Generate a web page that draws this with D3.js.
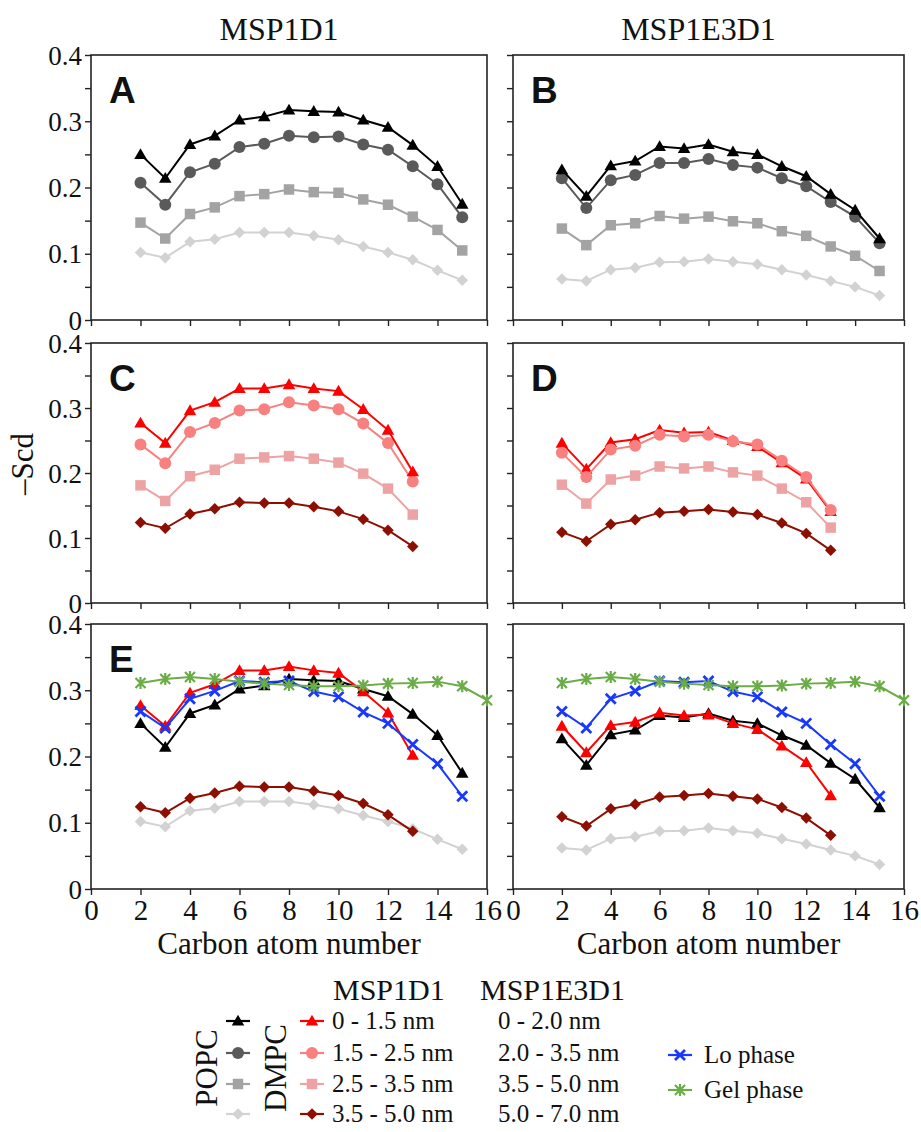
<!DOCTYPE html>
<html>
<head>
<meta charset="utf-8">
<script src="https://cdn.jsdelivr.net/npm/d3@7"></script>
<style>
  body { margin: 0; background: #fff; }
  svg { display: block; }
  text { font-family: "Liberation Serif", "Times New Roman", serif; fill: #111; }
</style>
</head>
<body>
<div id="main"></div>
<script>
// carbon positions along the acyl chain
const carbons = [2, 3, 4, 5, 6, 7, 8, 9, 10, 11, 12, 13, 14, 15]
const carbonsShort = [2, 3, 4, 5, 6, 7, 8, 9, 10, 11, 12, 13]
const carbonsGel = [2, 3, 4, 5, 6, 7, 8, 9, 10, 11, 12, 13, 14, 15, 16]

// panel A : MSP1D1 bulk
const popcD1 = [0.250, 0.214, 0.265, 0.278, 0.302, 0.307, 0.317, 0.315, 0.314, 0.302, 0.291, 0.264, 0.232, 0.175]
const dmpcD1Circ = [0.207, 0.174, 0.223, 0.236, 0.261, 0.266, 0.278, 0.276, 0.277, 0.265, 0.257, 0.232, 0.205, 0.155]
const dmpcD1Sq = [0.147, 0.123, 0.160, 0.170, 0.187, 0.190, 0.197, 0.193, 0.192, 0.182, 0.174, 0.156, 0.136, 0.105]
const dmpcD1Dia = [0.102, 0.094, 0.118, 0.122, 0.132, 0.132, 0.132, 0.127, 0.121, 0.111, 0.102, 0.091, 0.075, 0.060]

// panel B : MSP1E3D1 bulk
const popcE3 = [0.227, 0.187, 0.233, 0.240, 0.262, 0.259, 0.265, 0.254, 0.250, 0.232, 0.217, 0.190, 0.166, 0.123]
const dmpcE3Circ = [0.214, 0.169, 0.211, 0.219, 0.237, 0.237, 0.243, 0.234, 0.230, 0.214, 0.202, 0.178, 0.156, 0.116]
const dmpcE3Sq = [0.138, 0.113, 0.143, 0.146, 0.157, 0.153, 0.156, 0.149, 0.146, 0.134, 0.127, 0.111, 0.097, 0.074]
const dmpcE3Dia = [0.062, 0.059, 0.076, 0.079, 0.087, 0.088, 0.092, 0.088, 0.084, 0.076, 0.068, 0.059, 0.050, 0.037]

// panel C : MSP1D1 shells
const shellD1a = [0.277, 0.246, 0.296, 0.309, 0.330, 0.330, 0.336, 0.330, 0.326, 0.298, 0.266, 0.202]
const shellD1b = [0.244, 0.215, 0.263, 0.277, 0.296, 0.298, 0.309, 0.304, 0.298, 0.276, 0.246, 0.187]
const shellD1c = [0.181, 0.157, 0.195, 0.205, 0.222, 0.224, 0.226, 0.222, 0.216, 0.199, 0.176, 0.136]
const shellD1d = [0.124, 0.115, 0.137, 0.145, 0.155, 0.154, 0.154, 0.148, 0.141, 0.129, 0.112, 0.087]

// panel D : MSP1E3D1 shells
const shellE3a = [0.246, 0.206, 0.247, 0.252, 0.266, 0.262, 0.263, 0.250, 0.241, 0.216, 0.191, 0.141]
const shellE3b = [0.231, 0.194, 0.236, 0.242, 0.259, 0.256, 0.259, 0.249, 0.244, 0.219, 0.194, 0.143]
const shellE3c = [0.182, 0.153, 0.190, 0.196, 0.210, 0.207, 0.210, 0.201, 0.196, 0.176, 0.155, 0.116]
const shellE3d = [0.109, 0.095, 0.121, 0.128, 0.139, 0.141, 0.144, 0.140, 0.136, 0.123, 0.107, 0.081]

// reference phases
const loPhase = [0.268, 0.243, 0.287, 0.299, 0.314, 0.312, 0.314, 0.298, 0.290, 0.267, 0.250, 0.218, 0.189, 0.140]
const gelPhase = [0.311, 0.317, 0.320, 0.317, 0.313, 0.310, 0.308, 0.306, 0.306, 0.307, 0.310, 0.311, 0.313, 0.306, 0.285]

const yTicks = [0, 0.05, 0.1, 0.15, 0.2, 0.25, 0.3, 0.35, 0.4]
const yLabels = [0, 0.1, 0.2, 0.3, 0.4]
const xTicks = [0, 2, 4, 6, 8, 10, 12, 14, 16]
const colTitles = ['MSP1D1', 'MSP1E3D1']

const styles = {
  black: { color: '#000000', shape: 'tri' },
  dgray: { color: '#5a5a5a', shape: 'circ' },
  gray: { color: '#a3a3a3', shape: 'sq' },
  lgray: { color: '#d2d2d2', shape: 'dia' },
  red: { color: '#ff0000', shape: 'tri' },
  pink: { color: '#f8817f', shape: 'circ' },
  lpink: { color: '#eda3a3', shape: 'sq' },
  dred: { color: '#8c0f02', shape: 'dia' },
  blue: { color: '#1838ff', shape: 'x' },
  green: { color: '#6aac45', shape: 'star' }
}

const panels = [
  { col: 0, row: 0, letter: 'A', series: [[carbons, dmpcD1Dia, 'lgray'], [carbons, dmpcD1Sq, 'gray'], [carbons, dmpcD1Circ, 'dgray'], [carbons, popcD1, 'black']] },
  { col: 1, row: 0, letter: 'B', series: [[carbons, dmpcE3Dia, 'lgray'], [carbons, dmpcE3Sq, 'gray'], [carbons, dmpcE3Circ, 'dgray'], [carbons, popcE3, 'black']] },
  { col: 0, row: 1, letter: 'C', series: [[carbonsShort, shellD1d, 'dred'], [carbonsShort, shellD1c, 'lpink'], [carbonsShort, shellD1b, 'pink'], [carbonsShort, shellD1a, 'red']] },
  { col: 1, row: 1, letter: 'D', series: [[carbonsShort, shellE3d, 'dred'], [carbonsShort, shellE3c, 'lpink'], [carbonsShort, shellE3a, 'red'], [carbonsShort, shellE3b, 'pink']] },
  { col: 0, row: 2, letter: 'E', series: [[carbons, dmpcD1Dia, 'lgray'], [carbonsShort, shellD1d, 'dred'], [carbons, popcD1, 'black'], [carbonsShort, shellD1a, 'red'], [carbons, loPhase, 'blue'], [carbonsGel, gelPhase, 'green']] },
  { col: 1, row: 2, letter: '', series: [[carbons, dmpcE3Dia, 'lgray'], [carbonsShort, shellE3d, 'dred'], [carbons, popcE3, 'black'], [carbonsShort, shellE3a, 'red'], [carbons, loPhase, 'blue'], [carbonsGel, gelPhase, 'green']] }
]

const cols = [{ x0: 91, x1: 487 }, { x0: 513, x1: 904 }]
const rows = [{ y0: 55, y1: 320 }, { y0: 343, y1: 603 }, { y0: 624, y1: 889 }]
const SERIF = '"Liberation Serif", "Times New Roman", serif'

const svg = d3.select('#main').append('svg').attr('width', 921).attr('height', 1132)

function marker(g, shape, color, cx, cy) {
  const t = 'translate(' + cx + ',' + cy + ')'
  if (shape === 'tri') {
    g.append('path').attr('d', d3.symbol(d3.symbolTriangle, 68)()).attr('transform', t + ' translate(0,1)').attr('fill', color)
  } else if (shape === 'circ') {
    g.append('circle').attr('cx', cx).attr('cy', cy).attr('r', 6).attr('fill', color)
  } else if (shape === 'sq') {
    g.append('path').attr('d', d3.symbol(d3.symbolSquare, 110)()).attr('transform', t).attr('fill', color)
  } else if (shape === 'dia') {
    g.append('path').attr('d', d3.symbol(d3.symbolSquare, 66)()).attr('transform', t + ' rotate(45)').attr('fill', color)
  } else if (shape === 'x') {
    g.append('path').attr('d', 'M-5,-5L5,5M-5,5L5,-5').attr('transform', t)
      .attr('stroke', color).attr('stroke-width', 2.8).attr('fill', 'none')
  } else if (shape === 'star') {
    g.append('path').attr('d', 'M-5,-5L5,5M-5,5L5,-5M0,-6L0,6').attr('transform', t)
      .attr('stroke', color).attr('stroke-width', 2.2).attr('fill', 'none')
  }
}

const fmt = d => (d === 0 ? '0' : d3.format('.1f')(d))

panels.forEach(p => {
  const c = cols[p.col], r = rows[p.row]
  const x = d3.scaleLinear().domain([0, 16]).range([c.x0, c.x1])
  const y = d3.scaleLinear().domain([0, 0.4]).range([r.y1, r.y0])
  const g = svg.append('g').attr('class', 'panel')

  // y axis ticks, labels only on the left column
  const ya = g.append('g').attr('transform', 'translate(' + c.x0 + ',0)')
    .call(d3.axisLeft(y).tickValues(yTicks).tickSize(6).tickSizeOuter(0)
      .tickFormat(d => (p.col === 0 && yLabels.some(v => Math.abs(v - d) < 1e-9)) ? fmt(d) : ''))
  ya.select('.domain').remove()
  ya.selectAll('line').attr('stroke', '#222').attr('stroke-width', 1.4)
  ya.selectAll('text').attr('x', -9).attr('dy', '0.34em').attr('fill', '#111')
    .style('font-family', SERIF).style('font-size', '27px')

  const xa = g.append('g').attr('transform', 'translate(0,' + r.y1 + ')')
    .call(d3.axisBottom(x).tickValues(xTicks).tickSize(6).tickSizeOuter(0)
      .tickFormat(d => (p.row === 2 ? d : '')))
  xa.select('.domain').remove()
  xa.selectAll('line').attr('stroke', '#222').attr('stroke-width', 1.4)
  xa.selectAll('text').attr('y', 9).attr('dy', '0.75em').attr('fill', '#111')
    .style('font-family', SERIF).style('font-size', '29px')

  g.append('rect').attr('x', c.x0).attr('y', r.y0).attr('width', c.x1 - c.x0).attr('height', r.y1 - r.y0)
    .attr('fill', 'none').attr('stroke', '#222').attr('stroke-width', 1.6)

  if (p.letter) {
    g.append('text').attr('x', c.x0 + 18).attr('y', r.y0 + 48).text(p.letter)
      .style('font-family', '"Liberation Sans", Arial, sans-serif').attr('font-weight', 'bold').attr('font-size', 37)
  }

  const line = d3.line().x(d => x(d[0])).y(d => y(d[1]))
  p.series.forEach(s => {
    const st = styles[s[2]]
    const pts = s[0].map((cx, i) => [cx, s[1][i]])
    const sg = g.append('g')
    sg.append('path').attr('d', line(pts)).attr('fill', 'none').attr('stroke', st.color).attr('stroke-width', 2)
    pts.forEach(d => marker(sg, st.shape, st.color, x(d[0]), y(d[1])))
  })

  if (p.row === 2) {
    g.append('text').attr('x', (c.x0 + c.x1) / 2).attr('y', 954).attr('text-anchor', 'middle')
      .attr('font-size', 31).text('Carbon atom number')
  }
  if (p.row === 0) {
    g.append('text').attr('x', (c.x0 + c.x1) / 2 - 10).attr('y', 40).attr('text-anchor', 'middle')
      .attr('font-size', 32).text(colTitles[p.col])
  }
})

svg.append('text').attr('transform', 'translate(33,464) rotate(-90)').attr('text-anchor', 'middle')
  .attr('font-size', 31).text('\u2013Scd')

// legend
const lg = svg.append('g').attr('class', 'legend')
const legRows = [1021, 1053, 1084, 1114]
const leftKeys = ['black', 'dgray', 'gray', 'lgray']
const midKeys = ['red', 'pink', 'lpink', 'dred']
const d1Ranges = ['0 - 1.5 nm', '1.5 - 2.5 nm', '2.5 - 3.5 nm', '3.5 - 5.0 nm']
const e3Ranges = ['0 - 2.0 nm', '2.0 - 3.5 nm', '3.5 - 5.0 nm', '5.0 - 7.0 nm']
const phaseLabels = [['blue', 'Lo phase', 1055], ['green', 'Gel phase', 1090]]

function legItem(key, cx, cy) {
  const st = styles[key]
  lg.append('line').attr('x1', cx - 12).attr('x2', cx + 12).attr('y1', cy).attr('y2', cy)
    .attr('stroke', st.color).attr('stroke-width', 2.2)
  marker(lg, st.shape, st.color, cx, cy)
}

lg.append('text').attr('x', 333).attr('y', 1000).attr('font-size', 30).text('MSP1D1')
lg.append('text').attr('x', 480).attr('y', 1000).attr('font-size', 30).text('MSP1E3D1')
legRows.forEach((cy, i) => {
  legItem(leftKeys[i], 238, cy)
  legItem(midKeys[i], 312, cy)
  lg.append('text').attr('x', 332).attr('y', cy + 8).attr('font-size', 25).text(d1Ranges[i])
  lg.append('text').attr('x', 498).attr('y', cy + 8).attr('font-size', 25).text(e3Ranges[i])
})
phaseLabels.forEach(d => {
  legItem(d[0], 680, d[2])
  lg.append('text').attr('x', 704).attr('y', d[2] + 8).attr('font-size', 25).text(d[1])
})
lg.append('text').attr('transform', 'translate(217,1068) rotate(-90)').attr('text-anchor', 'middle')
  .attr('font-size', 31).text('POPC')
lg.append('text').attr('transform', 'translate(286,1068) rotate(-90)').attr('text-anchor', 'middle')
  .attr('font-size', 31).text('DMPC')
</script>
</body>
</html>
